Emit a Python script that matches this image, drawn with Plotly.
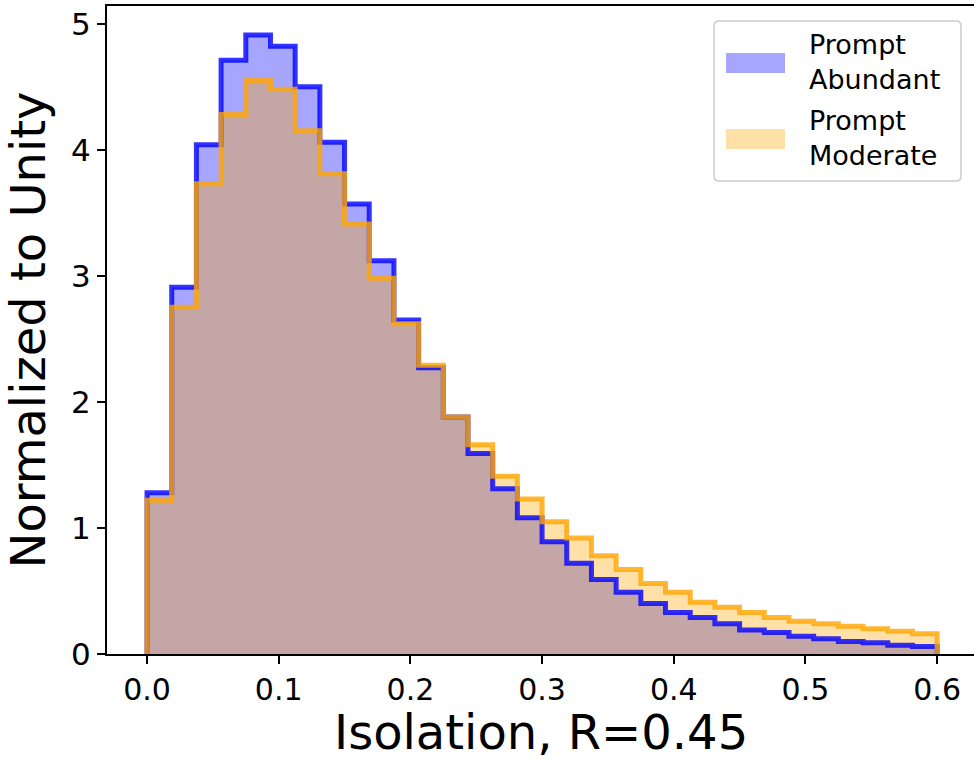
import numpy as np
import plotly.graph_objects as go

# ---------------- data ----------------
x_min, x_max, n_bins = 0.0, 0.6, 32
abundant = [1.28, 2.91, 4.04, 4.71, 4.91, 4.82, 4.50, 4.06, 3.57, 3.12, 2.65, 2.27,
            1.88, 1.59, 1.31, 1.08, 0.89, 0.72, 0.59, 0.49, 0.40, 0.33, 0.29, 0.24,
            0.19, 0.17, 0.14, 0.12, 0.10, 0.09, 0.07, 0.06]
moderate = [1.22, 2.75, 3.73, 4.28, 4.55, 4.48, 4.15, 3.81, 3.41, 2.98, 2.62, 2.29,
            1.88, 1.66, 1.41, 1.23, 1.05, 0.92, 0.78, 0.67, 0.56, 0.49, 0.41, 0.37,
            0.33, 0.29, 0.26, 0.24, 0.22, 0.20, 0.18, 0.16]
series_names = ["Prompt<br>Abundant", "Prompt<br>Moderate"]
x_ticks = [0.0, 0.1, 0.2, 0.3, 0.4, 0.5, 0.6]
y_ticks = [0, 1, 2, 3, 4, 5]
x_title = "Isolation, R=0.45"
y_title = "Normalized to Unity"

edges = np.linspace(x_min, x_max, n_bins + 1)

def step_xy(vals):
    xs = [edges[0]] + list(edges) + [edges[-1]]
    ys = [0] + list(vals) + [vals[-1], 0]
    return xs, ys

FONT = "DejaVu Sans"
W, H = 974, 759
ML, MR, MT, MB = 107, 0, 6, 105
PW, PH = W - ML - MR, H - MT - MB

fill_cols = ["rgba(0,0,255,0.35)", "rgba(255,165,0,0.35)"]
line_cols = ["rgba(0,0,255,0.8)", "rgba(255,165,0,0.8)"]
data = [abundant, moderate]

fig = go.Figure()
for vals, fc in zip(data, fill_cols):
    xs, ys = step_xy(vals)
    fig.add_trace(go.Scatter(x=xs, y=ys, mode="lines", line=dict(width=0, shape="hv"),
                             fill="tozeroy", fillcolor=fc, showlegend=False,
                             hoverinfo="skip"))
for vals, lc in zip(data, line_cols):
    xs, ys = step_xy(vals)
    fig.add_trace(go.Scatter(x=xs, y=ys, mode="lines",
                             line=dict(width=5, shape="hv", color=lc),
                             showlegend=False))

# --- pixel -> paper helpers for layout placement ---
def px(xp):
    return (xp - ML) / PW

def py(yp):
    return (H - MB - yp) / PH

# --- manual legend (matplotlib-like) ---
bx0, bx1, by0, by1, r = 714, 961, 21, 181, 5
path = (f"M {px(bx0+r)},{py(by0)} L {px(bx1-r)},{py(by0)} "
        f"Q {px(bx1)},{py(by0)} {px(bx1)},{py(by0+r)} "
        f"L {px(bx1)},{py(by1-r)} Q {px(bx1)},{py(by1)} {px(bx1-r)},{py(by1)} "
        f"L {px(bx0+r)},{py(by1)} Q {px(bx0)},{py(by1)} {px(bx0)},{py(by1-r)} "
        f"L {px(bx0)},{py(by0+r)} Q {px(bx0)},{py(by0)} {px(bx0+r)},{py(by0)} Z")
shapes = [dict(type="path", xref="paper", yref="paper", path=path,
               fillcolor="rgba(255,255,255,0.8)", line=dict(color="#cccccc", width=1.5))]
annotations = []
patch_y = [(53, 73), (129, 149)]
for (y0, y1), fc, name in zip(patch_y, fill_cols, series_names):
    shapes.append(dict(type="rect", xref="paper", yref="paper",
                       x0=px(726), x1=px(785), y0=py(y1), y1=py(y0),
                       fillcolor=fc, line=dict(width=0)))
    annotations.append(dict(xref="paper", yref="paper", x=px(807), y=py((y0 + y1) / 2 - 1),
                            xanchor="left", yanchor="middle", showarrow=False, align="left",
                            text=name, font=dict(family=FONT, size=27, color="black")))

# x-axis title as an annotation, placed at the very bottom
annotations.append(dict(xref="paper", yref="paper", x=0.5, y=py(H + 2),
                        xanchor="center", yanchor="bottom", showarrow=False,
                        text=x_title, borderpad=0,
                        font=dict(family=FONT, size=48, color="black")))

fig.update_layout(
    width=W, height=H,
    margin=dict(l=ML, r=MR, t=MT, b=MB, pad=0),
    paper_bgcolor="white", plot_bgcolor="white",
    font=dict(family=FONT, color="black"),
    shapes=shapes, annotations=annotations,
    xaxis=dict(range=[-0.0304, 0.628], tickvals=x_ticks, tickformat=".1f",
               showgrid=False, zeroline=False, showline=True, linecolor="black",
               linewidth=2, mirror=True, ticks="outside", ticklen=8, tickwidth=2,
               tickcolor="black", tickfont=dict(family=FONT, size=30, color="black")),
    yaxis=dict(range=[0, 5.14], tickvals=y_ticks,
               showgrid=False, zeroline=False, showline=True, linecolor="black",
               linewidth=2, mirror=False, ticks="outside", ticklen=8, tickwidth=2,
               tickcolor="black", tickfont=dict(family=FONT, size=31, color="black"),
               title=dict(text=y_title, font=dict(family=FONT, size=48, color="black"),
                          standoff=12)),
)

fig.write_html("out.html")
